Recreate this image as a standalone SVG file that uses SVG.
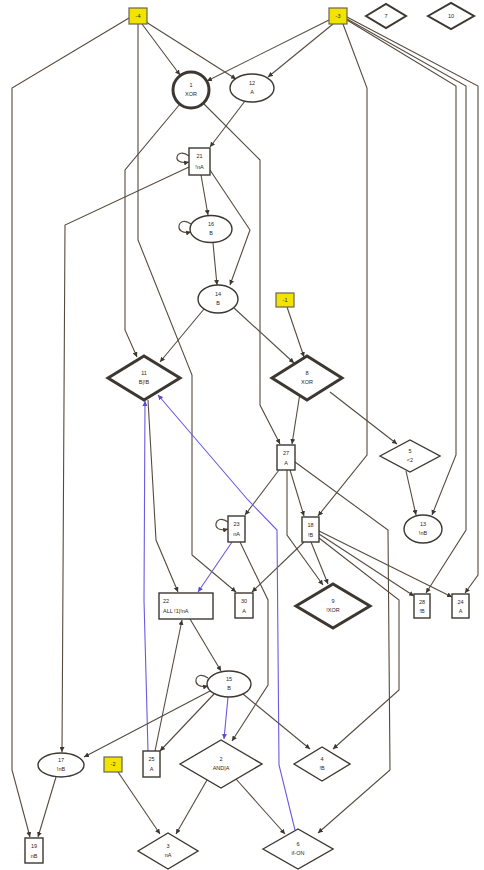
<svg xmlns="http://www.w3.org/2000/svg" width="484" height="870" viewBox="0 0 484 870">
  <style>
    .shape { fill: #ffffff; stroke: #3d3731; stroke-width: 1.4; }
    .thick { stroke-width: 3; }
    .input { fill: #f2e400; stroke: #6b6550; stroke-width: 1.2; }
    .edge { fill: none; stroke: #564a3e; stroke-width: 1.1; }
    .blue { fill: none; stroke: #6a5ae0; stroke-width: 1.1; }
    .loop { fill: none; stroke: #564a3e; stroke-width: 1.1; }
    text { font-family: "Liberation Sans", Arial, sans-serif; font-size: 5.5px; fill: #2a2520; text-anchor: middle; }
    .lt { text-anchor: start; }
  </style>
  <defs>
    <marker id="arr" viewBox="0 0 6 6" refX="6" refY="3" markerWidth="5" markerHeight="5" orient="auto" markerUnits="userSpaceOnUse">
      <path d="M0,0 L6,3 L0,6 z" fill="#3d3731"/>
    </marker>
    <marker id="arrb" viewBox="0 0 6 6" refX="6" refY="3" markerWidth="5" markerHeight="5" orient="auto" markerUnits="userSpaceOnUse">
      <path d="M0,0 L6,3 L0,6 z" fill="#5a48d8"/>
    </marker>
  </defs>

  <g id="connectors">
    <polyline class="edge" marker-end="url(#arr)" points="142,24 180,75"/>
    <polyline class="edge" marker-end="url(#arr)" points="146,22 236,79"/>
    <polyline class="edge" marker-end="url(#arr)" points="129,18 12,88 12,770 30,837"/>
    <polyline class="edge" marker-end="url(#arr)" points="138,24 138,240 192,375 192,555 236,592"/>
    <polyline class="edge" marker-end="url(#arr)" points="329,20 207,81"/>
    <polyline class="edge" marker-end="url(#arr)" points="333,24 268,77"/>
    <polyline class="edge" marker-end="url(#arr)" points="343,24 367,88 367,455 318,516"/>
    <polyline class="edge" marker-end="url(#arr)" points="347,20 456,86 456,455 432,515"/>
    <polyline class="edge" marker-end="url(#arr)" points="347,19 466,86 466,530 426,593"/>
    <polyline class="edge" marker-end="url(#arr)" points="347,17 478,86 478,575 465,593"/>
    <polyline class="edge" marker-end="url(#arr)" points="180,104 125,170 125,330 137,357"/>
    <polyline class="edge" marker-end="url(#arr)" points="203,103 260,160 260,405 280,444"/>
    <polyline class="edge" marker-end="url(#arr)" points="245,101 210,147"/>
    <polyline class="edge" marker-end="url(#arr)" points="201,175 208,215"/>
    <polyline class="edge" marker-end="url(#arr)" points="210,170 250,230 230,285"/>
    <polyline class="edge" marker-end="url(#arr)" points="189,167 65,225 62,752"/>
    <polyline class="edge" marker-end="url(#arr)" points="213,243 217,285"/>
    <polyline class="edge" marker-end="url(#arr)" points="204,309 160,362"/>
    <polyline class="edge" marker-end="url(#arr)" points="234,308 294,363"/>
    <polyline class="edge" marker-end="url(#arr)" points="287,307 304,357"/>
    <polyline class="edge" marker-end="url(#arr)" points="300,393 292,444"/>
    <polyline class="edge" marker-end="url(#arr)" points="330,392 397,444"/>
    <polyline class="edge" marker-end="url(#arr)" points="406,471 416,515"/>
    <polyline class="edge" marker-end="url(#arr)" points="290,470 304,516"/>
    <polyline class="edge" marker-end="url(#arr)" points="287,470 287,535 323,585"/>
    <polyline class="edge" marker-end="url(#arr)" points="295,462 388,530 390,770 318,833"/>
    <polyline class="edge" marker-end="url(#arr)" points="279,470 245,515"/>
    <polyline class="blue" marker-end="url(#arrb)" points="232,542 198,592"/>
    <polyline class="edge" marker-end="url(#arr)" points="240,542 268,600 268,685 232,741"/>
    <polyline class="edge" marker-end="url(#arr)" points="304,542 252,592"/>
    <polyline class="edge" marker-end="url(#arr)" points="311,542 328,584"/>
    <polyline class="edge" marker-end="url(#arr)" points="319,534 414,596"/>
    <polyline class="edge" marker-end="url(#arr)" points="319,531 452,597"/>
    <polyline class="edge" marker-end="url(#arr)" points="319,538 399,600 399,690 333,749"/>
    <polyline class="edge" marker-end="url(#arr)" points="148,400 156,540 178,592"/>
    <polyline class="blue" marker-end="url(#arrb)" points="148,751 144,600 145,401"/>
    <polyline class="blue" marker-end="url(#arrb)" points="295,830 279,765 277,530 248,500 158,395"/>
    <polyline class="blue" marker-end="url(#arrb)" points="228,697 224,739"/>
    <polyline class="edge" marker-end="url(#arr)" points="190,619 221,671"/>
    <polyline class="edge" marker-end="url(#arr)" points="210,691 84,757"/>
    <polyline class="edge" marker-end="url(#arr)" points="214,694 160,751"/>
    <polyline class="edge" marker-end="url(#arr)" points="155,751 182,620"/>
    <polyline class="edge" marker-end="url(#arr)" points="243,694 310,749"/>
    <polyline class="edge" marker-end="url(#arr)" points="207,780 176,834"/>
    <polyline class="edge" marker-end="url(#arr)" points="118,772 160,834"/>
    <polyline class="edge" marker-end="url(#arr)" points="236,779 285,834"/>
    <polyline class="edge" marker-end="url(#arr)" points="56,777 38,837"/>
    <!-- self loops -->
    <path class="loop" marker-end="url(#arr)" d="M189,156 C176,146 170,166 189,162"/>
    <path class="loop" marker-end="url(#arr)" d="M191,224 C178,214 172,236 191,232"/>
    <path class="loop" marker-end="url(#arr)" d="M228,522 C215,512 209,534 228,529"/>
    <path class="loop" marker-end="url(#arr)" d="M208,678 C195,668 189,690 208,686"/>
  </g>

  <g id="node-m4"><rect class="input" x="129" y="8" width="18" height="16"/><text x="138" y="18">-4</text></g>
  <g id="node-m3"><rect class="input" x="329" y="8" width="18" height="16"/><text x="338" y="18">-3</text></g>
  <g id="node-7"><polygon class="shape" style="stroke-width:2" points="366,16 386,4 406,16 386,28"/><text x="386" y="18">7</text></g>
  <g id="node-10"><polygon class="shape" style="stroke-width:2" points="428,16 451,3 474,16 451,29"/><text x="451" y="18">10</text></g>
  <g id="node-1"><circle class="shape thick" cx="191" cy="90" r="18"/><text x="191" y="87">1</text><text x="191" y="96">XOR</text></g>
  <g id="node-12"><ellipse class="shape" cx="252" cy="88" rx="22" ry="14"/><text x="252" y="85">12</text><text x="252" y="94">A</text></g>
  <g id="node-21"><rect class="shape" x="189" y="148" width="21" height="27"/><text x="199.5" y="158">21</text><text x="199.5" y="169">!nA</text></g>
  <g id="node-16"><ellipse class="shape" cx="211" cy="229" rx="21" ry="13.5"/><text x="211" y="226">16</text><text x="211" y="235">B</text></g>
  <g id="node-14"><ellipse class="shape" cx="218" cy="299" rx="20" ry="14"/><text x="218" y="296">14</text><text x="218" y="305">B</text></g>
  <g id="node-m1"><rect class="input" x="276" y="293" width="18" height="14"/><text x="285" y="302">-1</text></g>
  <g id="node-11"><polygon class="shape thick" points="108,378 144,356 180,378 144,400"/><text x="144" y="375">11</text><text x="144" y="384">B|!B</text></g>
  <g id="node-8"><polygon class="shape thick" points="272,378 307,356 342,378 307,400"/><text x="307" y="375">8</text><text x="307" y="384">XOR</text></g>
  <g id="node-27"><rect class="shape" x="277" y="445" width="18" height="25"/><text x="286" y="455">27</text><text x="286" y="465">A</text></g>
  <g id="node-5"><polygon class="shape" points="380,456 410,440 440,456 410,472"/><text x="410" y="453">5</text><text x="410" y="462">&lt;2</text></g>
  <g id="node-13"><ellipse class="shape" cx="423" cy="529" rx="19" ry="14"/><text x="423" y="526">13</text><text x="423" y="535">!nB</text></g>
  <g id="node-23"><rect class="shape" x="228" y="516" width="17" height="26"/><text x="236.5" y="526">23</text><text x="236.5" y="536">nA</text></g>
  <g id="node-18"><rect class="shape" x="302" y="517" width="17" height="25"/><text x="310.5" y="527">18</text><text x="310.5" y="537">!B</text></g>
  <g id="node-30"><rect class="shape" x="235" y="593" width="18" height="25"/><text x="244" y="603">30</text><text x="244" y="613">A</text></g>
  <g id="node-22"><rect class="shape" x="159" y="593" width="54" height="26"/><text class="lt" x="163" y="603">22</text><text class="lt" x="163" y="613">ALL !1|!nA</text></g>
  <g id="node-9"><polygon class="shape thick" points="296,606 333,584 370,606 333,628"/><text x="333" y="603">9</text><text x="333" y="612">!XOR</text></g>
  <g id="node-28"><rect class="shape" x="414" y="594" width="16" height="24"/><text x="422" y="604">28</text><text x="422" y="613">!B</text></g>
  <g id="node-24"><rect class="shape" x="452" y="594" width="17" height="24"/><text x="460.5" y="604">24</text><text x="460.5" y="613">A</text></g>
  <g id="node-15"><ellipse class="shape" cx="229" cy="684" rx="22" ry="13"/><text x="229" y="681">15</text><text x="229" y="690">B</text></g>
  <g id="node-17"><ellipse class="shape" cx="61" cy="765" rx="23" ry="12"/><text x="61" y="762">17</text><text x="61" y="771">!nB</text></g>
  <g id="node-m2"><rect class="input" x="104" y="757" width="18" height="15"/><text x="113" y="766">-2</text></g>
  <g id="node-25"><rect class="shape" x="143" y="751" width="17" height="26"/><text x="151.5" y="761">25</text><text x="151.5" y="771">A</text></g>
  <g id="node-2"><polygon class="shape" points="180,764 221,740 262,764 221,788"/><text x="221" y="761">2</text><text x="221" y="770">AND|A</text></g>
  <g id="node-4"><polygon class="shape" points="294,764 322,747 350,764 322,781"/><text x="322" y="761">4</text><text x="322" y="770">!B</text></g>
  <g id="node-19"><rect class="shape" x="25" y="838" width="18" height="25"/><text x="34" y="848">19</text><text x="34" y="858">nB</text></g>
  <g id="node-3"><polygon class="shape" points="138,851 168,833 198,851 168,869"/><text x="168" y="848">3</text><text x="168" y="857">nA</text></g>
  <g id="node-6"><polygon class="shape" points="263,849 298,829 333,849 298,869"/><text x="298" y="846">6</text><text x="298" y="855">if-ON</text></g>
</svg>
